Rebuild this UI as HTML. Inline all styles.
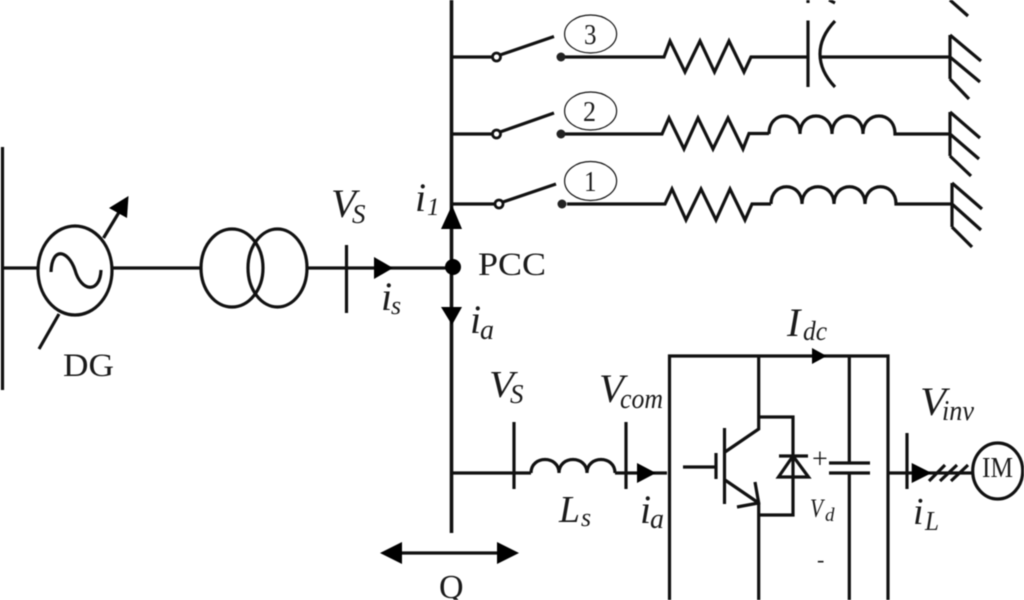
<!DOCTYPE html>
<html><head><meta charset="utf-8"><style>
html,body{margin:0;padding:0;background:#fff;width:1024px;height:600px;overflow:hidden}
svg{display:block;filter:blur(.4px)}
text{font-family:"Liberation Serif",serif;fill:#1a1a1a}
.i{font-style:italic}
</style></head><body>
<svg width="1024" height="600" viewBox="0 0 1024 600" xmlns="http://www.w3.org/2000/svg">
<g fill="none" stroke="#111" stroke-width="3.2" stroke-linejoin="miter">
<!-- main bus -->
<path d="M451.5 0V533" stroke-width="3.6"/>
<!-- top fragments -->
<path d="M808 0V3M829 0L835 3M950 0L968 16" />
<!-- row 3 -->
<path d="M452 57H493M500 55L554 36.5M565 57H664L670 41L685 72L700 41L714.5 72L729 41L744 72L751 57H808M808 20.5V87M835 21C815 42 815 66 835 87M821 57H950"/>
<circle cx="496.5" cy="57" r="4" stroke-width="2.8"/>
<path d="M950 35V79M950 35L981 61M950 57L980 82M950 79L969 99"/>
<ellipse cx="590.6" cy="34" rx="26" ry="19" stroke-width="1.2"/>
<!-- row 2 -->
<path d="M452 134H493M500 132L554 113M565 134H662L669 118L684 149L698 118L713 149L728 118L743 149L749 133.5H769M769 134C769 110 800 110 800 134C800 110 832 110 832 134C832 110 863 110 863 134C863 110 895 110 895 134H950"/>
<circle cx="496.5" cy="134" r="4" stroke-width="2.8"/>
<path d="M950 112V156M950 112L980 138M950 134L979 159M950 156L971 176"/>
<ellipse cx="590.6" cy="111" rx="26" ry="19" stroke-width="1.2"/>
<!-- row 1 -->
<path d="M452 204H495M503 202L556 184M567 204H665L672 189L686 220L701 189L716 220L730 189L745 220L752 204H771M771 204C771 181 802 181 802 204C802 181 834 181 834 204C834 181 865 181 865 204C865 181 896 181 896 204H952"/>
<circle cx="499" cy="204" r="4" stroke-width="2.8"/>
<path d="M952 183V227M952 183L982 209M952 204L981 230M952 227L972 247"/>
<ellipse cx="590.6" cy="181" rx="26" ry="19.5" stroke-width="1.2"/>
<!-- source side -->
<path d="M2.5 147V390M2 268H38M113 268H201M306 268H451M346.5 245V313"/>
<ellipse cx="75" cy="270.5" rx="37" ry="44.5"/>
<path d="M51 272C52 246 68 250 75 270C81 292 100 294 101 270"/>
<path d="M103.5 238L121 209M59 314L39 349"/>
<ellipse cx="232" cy="268" rx="31" ry="39"/>
<ellipse cx="277.5" cy="268" rx="29.5" ry="39"/>
<!-- filter branch -->
<path d="M452 473H531M514 422V489M615 473H667M626 422V489"/>
<path d="M531 473C531 455 559 455 559 473C559 455 587 455 587 473C587 455 615 455 615 473"/>
<path d="M402 553H497"/>
<!-- converter -->
<path d="M669.5 600V356H888V600M758.7 356V429L725 452M758.7 417H793V515H758.7M758.7 600V503L725 480M755 482L758.7 503L737 507M724.5 428V504M716 453V479M683 467H716"/>
<path d="M779 456H808M793 456L778.5 477H808.5Z"/>
<path d="M849.3 356V463M829 463H870M829 473H870M849.3 473V600"/>
<path d="M888 473H973M907 433V489"/>
<path d="M929 481L945 465M940 481L957 465M951 481L968 465"/>
<ellipse cx="997.7" cy="471" rx="25" ry="28"/>
</g>
<g fill="#000" stroke="none">
<circle cx="561" cy="57" r="4.5" fill="#222"/>
<circle cx="561" cy="134" r="4.5" fill="#222"/>
<circle cx="562" cy="204" r="4.5" fill="#222"/>
<circle cx="453" cy="267" r="8"/>
<path d="M128.5 196L109 208L127 218Z"/>
<path d="M393 268L374 257V279Z"/>
<path d="M452 205L441 229H462Z"/>
<path d="M452 325L441 307H462Z"/>
<path d="M656 473L637 463V483Z"/>
<path d="M380 553L402 542V564Z"/>
<path d="M519 553L497 542V564Z"/>
<path d="M826.7 356L812 348V364Z"/>
<path d="M931.7 473L911.7 463V483Z"/>
</g>
<text x="584" y="44" font-size="28" textLength="12.5" lengthAdjust="spacingAndGlyphs" fill="#222">3</text>
<text x="583" y="121" font-size="28" textLength="13" lengthAdjust="spacingAndGlyphs">2</text>
<text x="584" y="191" font-size="28" textLength="12.5" lengthAdjust="spacingAndGlyphs">1</text>
<text x="63" y="376" font-size="33" textLength="51" lengthAdjust="spacingAndGlyphs">DG</text>
<text x="478" y="275" font-size="33" textLength="68" lengthAdjust="spacingAndGlyphs">PCC</text>
<text x="439" y="598" font-size="34">Q</text>
<text x="982" y="477" font-size="29" textLength="31" lengthAdjust="spacingAndGlyphs">IM</text>
<text x="812" y="468" font-size="28" fill="#444">+</text>
<text x="817" y="567" font-size="22" fill="#444">-</text>
<text x="331" y="217" font-size="40" class="i" textLength="25" lengthAdjust="spacingAndGlyphs">V</text><text x="352" y="223" font-size="27" class="i">S</text>
<text x="415" y="211" font-size="40" class="i">i</text><text x="427" y="215" font-size="25" class="i">1</text>
<text x="381" y="310" font-size="40" class="i">i</text><text x="391" y="314" font-size="26" class="i">s</text>
<text x="470" y="333" font-size="40" class="i">i</text><text x="480" y="339" font-size="28" class="i">a</text>
<text x="489" y="397" font-size="38" class="i" textLength="25" lengthAdjust="spacingAndGlyphs">V</text><text x="510" y="403" font-size="27" class="i">S</text>
<text x="599" y="402" font-size="40" class="i" textLength="25" lengthAdjust="spacingAndGlyphs">V</text><text x="620" y="408" font-size="28" class="i" textLength="43" lengthAdjust="spacingAndGlyphs">com</text>
<text x="559" y="522" font-size="38" class="i" textLength="21" lengthAdjust="spacingAndGlyphs">L</text><text x="581" y="526" font-size="26" class="i">s</text>
<text x="640" y="523" font-size="40" class="i">i</text><text x="650" y="528" font-size="28" class="i">a</text>
<text x="787" y="336" font-size="40" class="i">I</text><text x="803" y="340" font-size="27" class="i" textLength="24" lengthAdjust="spacingAndGlyphs">dc</text>
<text x="810" y="517" font-size="26" class="i" fill="#444" textLength="13" lengthAdjust="spacingAndGlyphs">V</text><text x="825" y="521" font-size="19" class="i" fill="#444">d</text>
<text x="920" y="415" font-size="40" class="i" textLength="26" lengthAdjust="spacingAndGlyphs">V</text><text x="942" y="420" font-size="28" class="i" textLength="32" lengthAdjust="spacingAndGlyphs">inv</text>
<text x="913" y="524" font-size="38" class="i">i</text><text x="925" y="530" font-size="27" class="i" textLength="14" lengthAdjust="spacingAndGlyphs">L</text>
</svg>
</body></html>
